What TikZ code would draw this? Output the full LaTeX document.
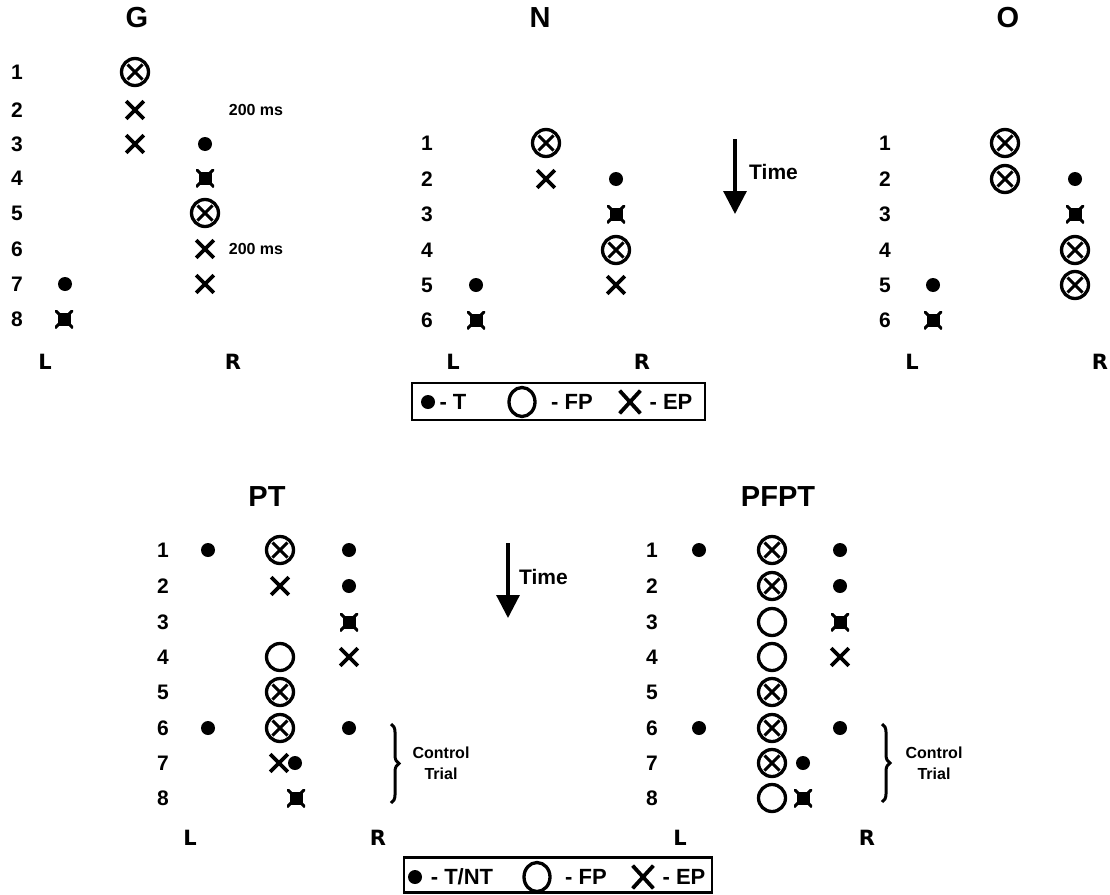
\documentclass[tikz,border=0pt]{standalone}
\usepackage{fontspec}
\setmainfont{Liberation Sans}
\newfontfamily\heavyfont{DejaVu Sans}
\usetikzlibrary{shapes.misc,shapes.geometric,arrows.meta,decorations.pathreplacing}

\tikzset{
  every node/.style={inner sep=0pt},
  num/.style={font=\bfseries\fontsize{21}{21}\selectfont},
  ttl/.style={font=\bfseries\fontsize{29}{29}\selectfont},
  side/.style={font=\heavyfont\bfseries\fontsize{21}{21}\selectfont},
  note/.style={font=\bfseries\fontsize{16}{16}\selectfont},
  ctl/.style={font=\bfseries\fontsize{16}{21}\selectfont, align=center},
  leg/.style={font=\bfseries\fontsize{22}{22}\selectfont},
  % target / non-target dot
  tdot/.style={circle, fill, minimum size=14pt},
  % fixation point
  fp/.style={circle, draw, line width=3.3pt, minimum size=27pt},
  % fixation point with eye-position cross
  fpx/.style={fp, path picture={
      \draw[line width=3.1pt]
        ([shift={(-7.5pt,-7.5pt)}]path picture bounding box.center) -- ++(15pt,15pt)
        ([shift={(-7.5pt,7.5pt)}]path picture bounding box.center) -- ++(15pt,-15pt);}},
  % eye position
  ep/.style={cross out, draw, line width=3.7pt, minimum size=14pt},
  % eye position on target
  tep/.style={rectangle, minimum size=18pt, path picture={
      \fill ([shift={(-6.5pt,-6.5pt)}]path picture bounding box.center) rectangle ++(13pt,13pt);
      \draw[line width=3pt]
        ([shift={(-9pt,-9pt)}]path picture bounding box.center) -- ++(18pt,18pt)
        ([shift={(-9pt,9pt)}]path picture bounding box.center) -- ++(18pt,-18pt);}},
  legbox/.style={rectangle, draw, line width=2.6pt},
  legfp/.style={ellipse, draw, line width=3.3pt, minimum width=26pt, minimum height=29pt},
  legep/.style={cross out, draw, line width=3.8pt, minimum width=17pt, minimum height=19pt},
  timearrow/.style={line width=3.2pt, -{Triangle[length=23pt,width=23pt]}},
  ctlbrace/.style={line width=3pt, decorate, decoration={brace, amplitude=8pt}},
}

\begin{document}
\begin{tikzpicture}[x=1pt,y=-1pt]
\useasboundingbox (0,0) rectangle (1110,894);

% ---------------- G ----------------
\node[ttl] (gT) at (137,18) {G};
\foreach \i/\y in {1/72,2/110,3/144,4/178,5/213,6/249,7/284,8/319}
  \node[num] (gn\i) at (17,\y) {\i};
\node[fpx] (g1) at (135,72) {};
\node[ep]  (g2) at (135,110) {};
\node[ep]  (g3) at (135,144) {};
\node[tdot] (g3r) at (205,144) {};
\node[tep] (g4r) at (205,178) {};
\node[fpx] (g5r) at (205,213) {};
\node[ep]  (g6r) at (205,249) {};
\node[ep]  (g7r) at (205,284) {};
\node[tdot] (g7l) at (65,284) {};
\node[tep] (g8l) at (64,319) {};
\node[note] (gms1) at (256,110) {200 ms};
\node[note] (gms2) at (256,249) {200 ms};
\node[side] (gL) at (45,362) {L};
\node[side] (gR) at (233,362) {R};

% ---------------- N ----------------
\node[ttl] (nT) at (540,18) {N};
\foreach \i/\y in {1/143,2/179,3/214,4/250,5/285,6/320}
  \node[num] (nn\i) at (427,\y) {\i};
\node[fpx] (n1) at (546,143) {};
\node[ep]  (n2) at (546,179) {};
\node[tdot] (n2r) at (616,179) {};
\node[tep] (n3r) at (616,214) {};
\node[fpx] (n4r) at (616,250) {};
\node[ep]  (n5r) at (616,285) {};
\node[tdot] (n5l) at (476,285) {};
\node[tep] (n6l) at (476,320) {};
\node[side] (nL) at (453,362) {L};
\node[side] (nR) at (642,362) {R};

\coordinate (ta1) at (735,139);
\coordinate (ta2) at (735,214);
\draw[timearrow] (ta1) -- (ta2);
\node[leg, font=\bfseries\fontsize{21}{21}\selectfont, anchor=west] (tt1) at (749,172) {Time};

% ---------------- O ----------------
\node[ttl] (oT) at (1008,18) {O};
\foreach \i/\y in {1/143,2/179,3/214,4/250,5/285,6/320}
  \node[num] (on\i) at (885,\y) {\i};
\node[fpx] (o1) at (1005,143) {};
\node[fpx] (o2) at (1005,179) {};
\node[tdot] (o2r) at (1075,179) {};
\node[tep] (o3r) at (1075,214) {};
\node[fpx] (o4r) at (1075,250) {};
\node[fpx] (o5r) at (1075,285) {};
\node[tdot] (o5l) at (933,285) {};
\node[tep] (o6l) at (933,320) {};
\node[side] (oL) at (912,362) {L};
\node[side] (oR) at (1100,362) {R};

% ---------------- legend (top) ----------------
\node[legbox, minimum width=293pt, minimum height=37pt] (lg1) at (558.5,401.5) {};
\node[tdot] (lg1d) at (428,402) {};
\node[leg] (lg1t) at (453,402) {- T};
\node[legfp] (lg1c) at (522,402) {};
\node[leg] (lg1f) at (572,402) {- FP};
\node[legep] (lg1x) at (630,402) {};
\node[leg] (lg1e) at (671,402) {- EP};

% ---------------- PT ----------------
\node[ttl] (pT) at (267,497) {PT};
\foreach \i/\y in {1/550,2/586,3/622,4/657,5/692,6/728,7/763,8/798}
  \node[num] (pn\i) at (163,\y) {\i};
\node[tdot] (p1l) at (208,550) {};
\node[fpx]  (p1)  at (280,550) {};
\node[tdot] (p1r) at (349,550) {};
\node[ep]   (p2)  at (280,586) {};
\node[tdot] (p2r) at (349,586) {};
\node[tep]  (p3r) at (349,622) {};
\node[fp]   (p4)  at (280,657) {};
\node[ep]   (p4r) at (349,657) {};
\node[fpx]  (p5)  at (280,692) {};
\node[tdot] (p6l) at (208,728) {};
\node[fpx]  (p6)  at (280,728) {};
\node[tdot] (p6r) at (349,728) {};
\node[ep]   (p7)  at (279,763) {};
\node[tdot] (p7d) at (295,763) {};
\node[tep]  (p8)  at (296,798) {};
\node[side] (pL) at (190,838) {L};
\node[side] (pR) at (378,838) {R};
\coordinate (pb1) at (391,724);
\coordinate (pb2) at (391,803);
\draw[ctlbrace] (pb1) -- (pb2);
\node[ctl] (pctl) at (441,763) {Control\\Trial};

\coordinate (tb1) at (508,543);
\coordinate (tb2) at (508,618);
\draw[timearrow] (tb1) -- (tb2);
\node[leg, font=\bfseries\fontsize{21}{21}\selectfont, anchor=west] (tt2) at (519,577) {Time};

% ---------------- PFPT ----------------
\node[ttl] (fT) at (778,497) {PFPT};
\foreach \i/\y in {1/550,2/586,3/622,4/657,5/692,6/728,7/763,8/798}
  \node[num] (fn\i) at (652,\y) {\i};
\node[tdot] (f1l) at (699,550) {};
\node[fpx]  (f1)  at (772,550) {};
\node[tdot] (f1r) at (840,550) {};
\node[fpx]  (f2)  at (772,586) {};
\node[tdot] (f2r) at (840,586) {};
\node[fp]   (f3)  at (772,622) {};
\node[tep]  (f3r) at (840,622) {};
\node[fp]   (f4)  at (772,657) {};
\node[ep]   (f4r) at (840,657) {};
\node[fpx]  (f5)  at (772,692) {};
\node[tdot] (f6l) at (699,728) {};
\node[fpx]  (f6)  at (772,728) {};
\node[tdot] (f6r) at (840,728) {};
\node[fpx]  (f7)  at (772,763) {};
\node[tdot] (f7d) at (803,763) {};
\node[fp]   (f8)  at (772,798) {};
\node[tep]  (f8d) at (803,798) {};
\node[side] (fL) at (680,838) {L};
\node[side] (fR) at (867,838) {R};
\coordinate (fb1) at (882,724);
\coordinate (fb2) at (882,802);
\draw[ctlbrace] (fb1) -- (fb2);
\node[ctl] (fctl) at (934,763) {Control\\Trial};

% ---------------- legend (bottom) ----------------
\node[legbox, minimum width=308pt, minimum height=35pt] (lg2) at (558,875) {};
\node[tdot] (lg2d) at (415,877) {};
\node[leg] (lg2t) at (462,877) {- T/NT};
\node[legfp] (lg2c) at (537,877) {};
\node[leg] (lg2f) at (586,877) {- FP};
\node[legep] (lg2x) at (643,877) {};
\node[leg] (lg2e) at (684,877) {- EP};
\end{tikzpicture}
\end{document}
